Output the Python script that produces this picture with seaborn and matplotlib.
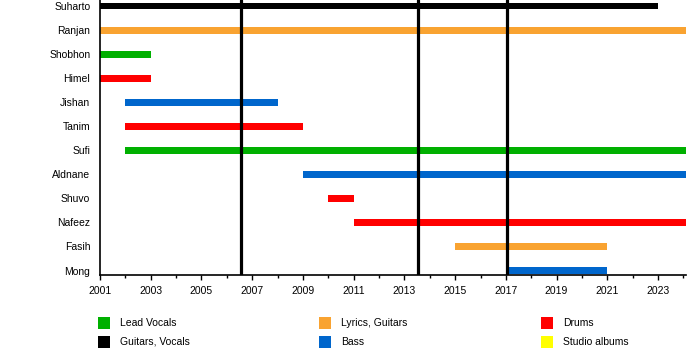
import matplotlib
matplotlib.use("Agg")
import matplotlib.pyplot as plt
from matplotlib.patches import Rectangle
import seaborn as sns
import numpy as np

sns.set_theme(style="white")
plt.rcParams['font.family'] = ['Liberation Sans', 'DejaVu Sans']
plt.rcParams['text.color'] = 'black'
plt.rcParams['xtick.color'] = 'black'
plt.rcParams['ytick.color'] = 'black'

END = 2024.1
members = ["Suharto", "Ranjan", "Shobhon", "Himel", "Jishan", "Tanim", "Sufi",
           "Aldnane", "Shuvo", "Nafeez", "Fasih", "Mong"]
starts = [2001, 2001, 2001, 2001, 2002, 2002, 2002, 2009, 2010, 2011, 2015, 2017]
ends = [2023, END, 2003, 2003, 2008, 2009, END, END, 2011, END, 2021, 2021]
roles = ["Guitars, Vocals", "Lyrics, Guitars", "Lead Vocals", "Drums", "Bass", "Drums",
         "Lead Vocals", "Bass", "Drums", "Drums", "Lyrics, Guitars", "Bass"]
album_years = [2006.55, 2013.52, 2017.05]

legend_labels = ["Lead Vocals", "Guitars, Vocals", "Lyrics, Guitars", "Bass", "Drums", "Studio albums"]
role_colors = {
    "Lead Vocals": "#00B000",
    "Guitars, Vocals": "#000000",
    "Lyrics, Guitars": "#F9A331",
    "Bass": "#0066CC",
    "Drums": "#FF0000",
    "Studio albums": "#FFFF00",
}

fig = plt.figure(figsize=(7, 3.55), dpi=100)
ax = fig.add_axes([100/700, 80/355, 586/700, 1 - 80/355])

y = np.arange(len(members))
ax.barh(y, np.array(ends) - np.array(starts), left=starts, height=0.29,
        color=[role_colors[r] for r in roles], linewidth=0, zorder=2)

for yr in album_years:
    ax.axvline(yr, color="black", linewidth=2.3, zorder=3)

ax.set_xlim(2001, END)
ax.set_ylim(11 + 4.5/24.1, -0.25)
ax.set_yticks(y)
ax.set_yticklabels(members, fontsize=7.5)
ax.set_xticks(np.arange(2001, 2024, 2))
ax.set_xticklabels([str(v) for v in range(2001, 2024, 2)], fontsize=7.5)
ax.set_xticks(np.arange(2001, 2025, 1), minor=True)
ax.tick_params(axis="y", length=0, pad=7)
ax.tick_params(axis="x", which="major", length=3.5, width=1, color="black", pad=4.5, direction="out", bottom=True)
ax.tick_params(axis="x", which="minor", length=2.5, width=1, color="black", direction="out", bottom=True)
for s in ["top", "right"]:
    ax.spines[s].set_visible(False)
for s in ["left", "bottom"]:
    ax.spines[s].set_color("black")
    ax.spines[s].set_linewidth(1.2)
ax.grid(False)

# legend
col_x = [98, 319, 541]
row_y = [323, 342]
for i, lab in enumerate(legend_labels):
    cx = col_x[i // 2]
    cy = row_y[i % 2]
    fig.add_artist(Rectangle((cx/700, (355 - cy - 6)/355), 12/700, 12/355,
                             transform=fig.transFigure, color=role_colors[lab], linewidth=0))
    fig.text((cx + 22)/700, (355 - cy)/355, lab, fontsize=7.5, va="center", ha="left")

fig.savefig("out.png", dpi=100)
